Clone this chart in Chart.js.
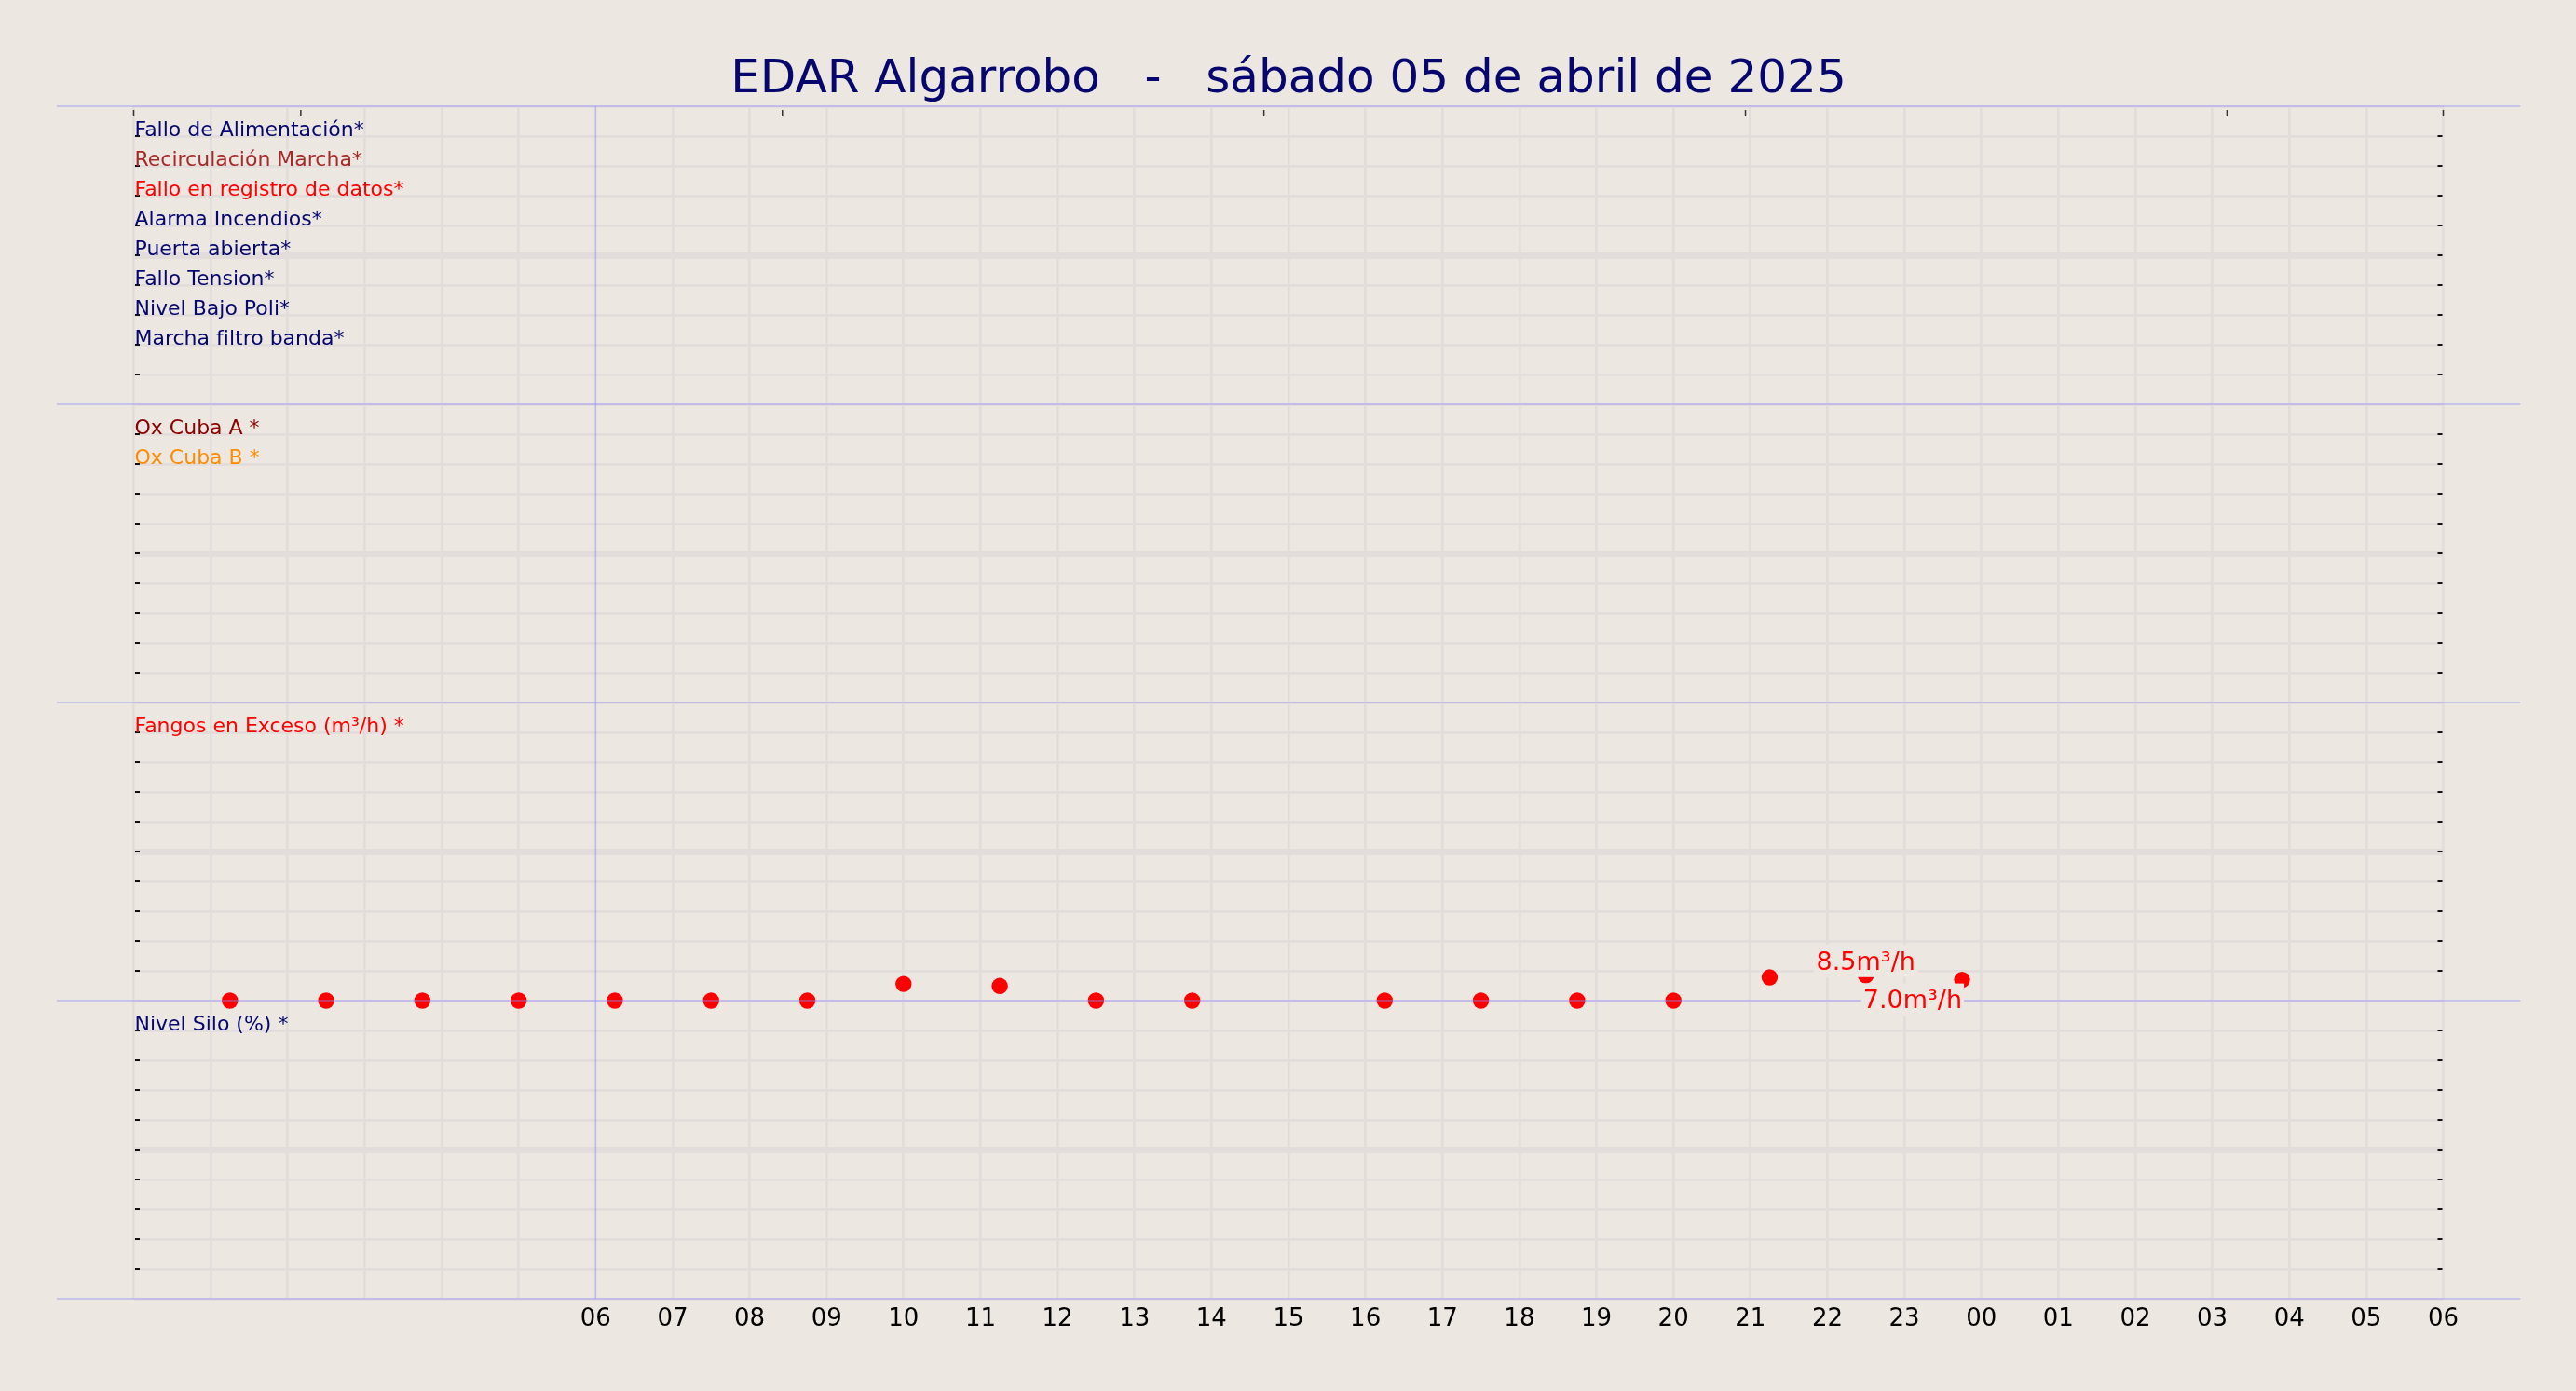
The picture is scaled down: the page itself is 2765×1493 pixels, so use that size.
<!DOCTYPE html>
<html lang="es">
<head>
<meta charset="utf-8">
<title>EDAR Algarrobo</title>
<script src="https://cdn.jsdelivr.net/npm/chart.js@4.4.1/dist/chart.umd.min.js"></script>
<style>
  html, body { margin: 0; padding: 0; background: #ece7e1; }
  #caja { width: 2765px; height: 1493px; }
</style>
</head>
<body>
<div id="caja"><canvas id="grafico"></canvas></div>
<script>
const titulo = 'EDAR Algarrobo   -   sábado 05 de abril de 2025';

// muestras de fangos en exceso (hora del día 05)
const horasFangos = ['01:15', '02:30', '03:45', '05:00', '06:15', '07:30', '08:45', '10:00', '11:15',
                     '12:30', '13:45', '16:15', '17:30', '18:45', '20:00', '21:15', '22:30', '23:45'];
const valoresFangos = [0, 0, 0, 0, 0, 0, 0, 5.6, 4.9, 0, 0, 0, 0, 0, 0, 7.8, 8.5, 7.0];
const unidadFangos = 'm³/h';

// rótulos de cada franja
const etiquetasAlarmas = ['Fallo de Alimentación*', 'Recirculación Marcha*', 'Fallo en registro de datos*',
                          'Alarma Incendios*', 'Puerta abierta*', 'Fallo Tension*', 'Nivel Bajo Poli*',
                          'Marcha filtro banda*'];
const coloresAlarmas = ['#06066e', '#a52a2a', '#ff0000', '#06066e', '#06066e', '#06066e', '#06066e', '#06066e'];
const etiquetasOx = ['Ox Cuba A *', 'Ox Cuba B *'];
const coloresOx = ['#8b0000', '#ff8c00'];
const etiquetasFangos = ['Fangos en Exceso (m³/h) *'];
const coloresFangos = ['#ff0000'];
const etiquetasSilo = ['Nivel Silo (%) *'];
const coloresSilo = ['#06066e'];

// eje x: horas desde las 00 del día 05 hasta las 06 del día 06
const etiquetasHoras = ['06', '07', '08', '09', '10', '11', '12', '13', '14', '15', '16', '17', '18',
                        '19', '20', '21', '22', '23', '00', '01', '02', '03', '04', '05', '06'];

const FONDO = '#ece7e1';
const REJILLA = '#e2dcdb';
const AZUL = 'rgba(140,140,255,0.5)';

Chart.defaults.font.family = '"DejaVu Sans"';

const aHoras = s => { const [h, m] = s.split(':').map(Number); return h + m / 60; };

const paneles = [
  { id: 'yAlarmas', etiquetas: etiquetasAlarmas, colores: coloresAlarmas, peso: 4 },
  { id: 'yOx', etiquetas: etiquetasOx, colores: coloresOx, peso: 3 },
  { id: 'yFangos', etiquetas: etiquetasFangos, colores: coloresFangos, peso: 2 },
  { id: 'ySilo', etiquetas: etiquetasSilo, colores: coloresSilo, peso: 1 }
];

const escalas = {
  x: {
    type: 'linear', position: 'bottom', min: 0, max: 30,
    ticks: {
      stepSize: 1, autoSkip: false, maxRotation: 0, padding: 7,
      color: '#000', font: { size: 26 },
      callback: v => (v >= 6 ? etiquetasHoras[v - 6] : '')
    },
    grid: {
      color: c => (c.tick && c.tick.value === 6 ? 'rgba(0,0,0,0)' : REJILLA),
      lineWidth: 2.7, drawTicks: false
    },
    border: { display: false },
    afterFit: s => { s.height = 99; }
  },
  // eje secundario superior, solo marcas
  xSup: { type: 'linear', position: 'top', min: -0.347, max: 4.449, display: false, ticks: { stepSize: 1 } }
};

paneles.forEach(p => {
  escalas[p.id] = {
    type: 'linear', position: 'left', stack: 'franjas', stackWeight: 1, weight: p.peso,
    min: 0, max: 100,
    ticks: { display: false, stepSize: 10 },
    grid: {
      color: REJILLA, drawTicks: false,
      lineWidth: c => (c.tick && c.tick.value === 50 ? 7 : 2.7)
    },
    border: { display: false },
    afterFit: s => { s.width = 0; }
  };
});

const decoracion = {
  id: 'decoracion',
  beforeDatasetsDraw(chart) {
    const { ctx, chartArea, scales } = chart;
    ctx.save();
    const x6 = scales.x.getPixelForValue(6);
    ctx.strokeStyle = AZUL;
    ctx.lineWidth = 1.6;
    ctx.beginPath();
    ctx.moveTo(x6, chartArea.top);
    ctx.lineTo(x6, chartArea.bottom);
    ctx.stroke();

    paneles.forEach(p => {
      const s = scales[p.id];
      ctx.strokeStyle = '#111';
      ctx.lineWidth = 2;
      s.ticks.forEach(t => {
        if (t.value === s.min || t.value === s.max) return;
        const y = s.getPixelForValue(t.value);
        ctx.beginPath();
        ctx.moveTo(chartArea.left + 1.5, y);
        ctx.lineTo(chartArea.left + 6.5, y);
        ctx.moveTo(chartArea.right - 6, y);
        ctx.lineTo(chartArea.right - 1, y);
        ctx.stroke();
      });
      ctx.font = '22px "DejaVu Sans"';
      ctx.textAlign = 'left';
      ctx.textBaseline = 'alphabetic';
      p.etiquetas.forEach((txt, i) => {
        ctx.fillStyle = p.colores[i];
        ctx.fillText(txt, chartArea.left + 1, s.getPixelForValue(s.max - (i + 1) * 10));
      });
    });

    const sup = scales.xSup;
    ctx.strokeStyle = '#333';
    ctx.lineWidth = 1.5;
    sup.ticks.forEach(t => {
      const x = sup.getPixelForValue(t.value);
      ctx.beginPath();
      ctx.moveTo(x, chartArea.top + 4);
      ctx.lineTo(x, chartArea.top + 11);
      ctx.stroke();
    });
    ctx.restore();
  },
  afterDatasetsDraw(chart) {
    const { ctx, scales } = chart;
    ctx.save();
    const x0 = scales.x.getPixelForValue(-1);
    const x1 = scales.x.getPixelForValue(31);
    const bordes = new Set();
    paneles.forEach(p => { bordes.add(scales[p.id].top); bordes.add(scales[p.id].bottom); });
    ctx.strokeStyle = AZUL;
    ctx.lineWidth = 1.6;
    bordes.forEach(y => {
      ctx.beginPath();
      ctx.moveTo(x0, y);
      ctx.lineTo(x1, y);
      ctx.stroke();
    });

    // valores de las dos últimas muestras
    const puntos = chart.getDatasetMeta(0).data;
    const n = valoresFangos.length;
    ctx.font = '27px "DejaVu Sans"';
    ctx.textBaseline = 'alphabetic';

    const pA = puntos[n - 2];
    const tA = valoresFangos[n - 2].toFixed(1) + unidadFangos;
    const wA = ctx.measureText(tA).width;
    ctx.fillStyle = FONDO;
    ctx.fillRect(pA.x - wA / 2 - 3, pA.y - 33, wA + 6, 35);
    ctx.fillStyle = '#ff0000';
    ctx.textAlign = 'center';
    ctx.fillText(tA, pA.x, pA.y - 6);

    const pB = puntos[n - 1];
    const tB = valoresFangos[n - 1].toFixed(1) + unidadFangos;
    const wB = ctx.measureText(tB).width;
    ctx.fillStyle = FONDO;
    ctx.fillRect(pB.x - wB - 2, pB.y + 4, wB + 4, 35);
    ctx.fillStyle = '#ff0000';
    ctx.textAlign = 'right';
    ctx.fillText(tB, pB.x, pB.y + 30);
    ctx.restore();
  }
};

new Chart(document.getElementById('grafico'), {
  type: 'scatter',
  data: {
    datasets: [{
      label: 'Fangos en Exceso',
      data: horasFangos.map((h, i) => ({ x: aHoras(h), y: valoresFangos[i] })),
      xAxisID: 'x',
      yAxisID: 'yFangos',
      backgroundColor: '#ff0000',
      borderWidth: 0,
      pointRadius: 8.7,
      pointHoverRadius: 8.7,
      clip: false
    }]
  },
  options: {
    responsive: true,
    maintainAspectRatio: false,
    animation: false,
    events: [],
    layout: { padding: { left: 143.5, right: 142.5, top: 0, bottom: 0 } },
    scales: escalas,
    plugins: {
      legend: { display: false },
      tooltip: { enabled: false },
      title: {
        display: true,
        text: titulo,
        color: '#06066e',
        font: { size: 50, weight: 'normal', lineHeight: 1 },
        padding: { top: 61, bottom: 3 }
      }
    }
  },
  plugins: [decoracion]
});
</script>
</body>
</html>
